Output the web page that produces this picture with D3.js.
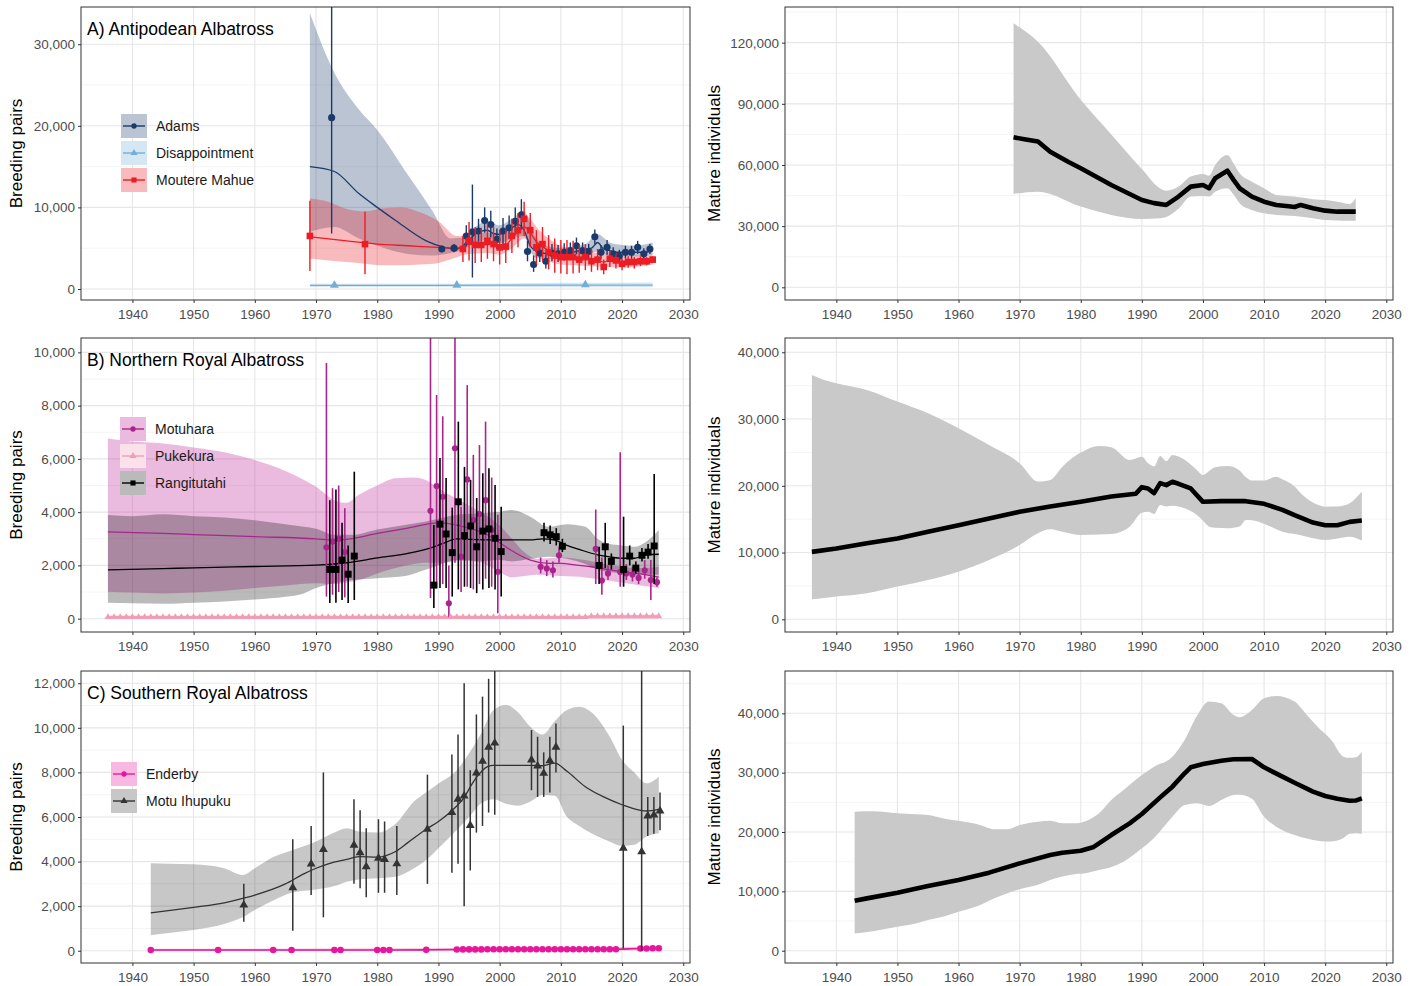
<!DOCTYPE html>
<html>
<head>
<meta charset="utf-8">
<script src="https://cdn.jsdelivr.net/npm/d3@7"></script>
<style>
  body { margin: 0; background: #fff; }
  text { font-family: "Liberation Sans", Arial, sans-serif; }
</style>
</head>
<body>
<div id="chart"></div>
<script>
// ---------- data: x axis ----------
const yearTicks = [1940, 1950, 1960, 1970, 1980, 1990, 2000, 2010, 2020, 2030];

// ---------- A) Antipodean Albatross, breeding pairs ----------
// bands are [year, lower, upper]; trends are [year, value]; points are [year, value, lower, upper]
const adamsBand = [[1969,7000,33800],[1973,7600,26500],[1977,6200,22000],[1980,5300,19500],[1985,4300,14000],[1989,4100,9600],[1992,4400,6200],[1994,4800,6300],[1996,5600,7600],[1998,6000,8300],[2000,5600,7800],[2002,6200,8600],[2004,6500,9600],[2005,4600,8000],[2006,3800,6200],[2008,3700,5200],[2010,3700,5000],[2012,3800,5200],[2014,4100,5500],[2016,4600,6700],[2018,4100,5700],[2020,4000,5400],[2022,4000,5300],[2025,4200,5700]];
const adamsTrend = [[1969,15000],[1973,14400],[1977,11700],[1980,10000],[1983,8400],[1988,5900],[1991,5100],[1993,4900],[1994,5300],[1995,6000],[1996,6700],[1997,7100],[1998,7200],[1999,6800],[2000,6700],[2001,7100],[2002,7500],[2003,7900],[2004,7200],[2005,5300],[2006,4600],[2007,4400],[2008,4300],[2009,4300],[2010,4300],[2011,4400],[2012,4500],[2013,4700],[2014,4900],[2015,5000],[2016,5700],[2017,4900],[2018,4700],[2019,4500],[2020,4500],[2021,4400],[2022,4500],[2023,4500],[2024,4500],[2025,4900]];
const adamsPoints = [[1973,21000,6800,36000],[1991,4900,4500,5300],[1993,5000,4500,5500],[1995,6500,5200,7800],[1996,7000,1400,12800],[1997,7100,5800,8600],[1998,8400,6900,10000],[1999,7900,6300,9600],[2000,6100,4900,7400],[2001,7100,5500,8700],[2002,7500,6200,9000],[2003,8300,6900,10000],[2004,9100,7300,11000],[2005,4600,3400,5900],[2006,3000,2100,4100],[2007,4400,3300,5500],[2008,3400,2500,4500],[2009,4400,3400,5500],[2010,4300,3300,5400],[2011,4500,3500,5600],[2012,4700,3700,5700],[2013,5300,4300,6300],[2014,4700,3700,5700],[2015,4600,3700,5500],[2016,6400,5500,7300],[2017,4500,3600,5400],[2018,5100,4200,6000],[2019,4300,3500,5100],[2020,4000,3200,4800],[2021,4500,3700,5300],[2022,4500,3700,5300],[2023,5100,4300,5900],[2024,4300,3600,5000],[2025,4900,4300,5500]];

const disappointmentBand = [[1969,250,650],[1995,250,650],[2010,200,750],[2025,200,800]];
const disappointmentTrend = [[1969,450],[1990,450],[2010,480],[2025,480]];
const disappointmentPoints = [[1973,450],[1993,470],[2014,520]];

const moutereBand = [[1969,3700,11100],[1972,3500,10700],[1975,3300,9800],[1978,3100,9500],[1981,2900,9900],[1984,2900,10000],[1987,3000,9400],[1990,3200,8300],[1993,3900,6500],[1995,4300,6600],[1998,4400,6900],[2000,4200,6700],[2002,5000,7900],[2004,6200,9000],[2005,5500,8600],[2006,4500,7600],[2008,3400,6200],[2010,3000,5300],[2012,2900,4900],[2015,2800,4500],[2018,2700,4300],[2020,2600,4100],[2022,2700,4100],[2025,3000,4200]];
const moutereTrend = [[1969,6400],[1975,5900],[1980,5500],[1985,5300],[1990,5100],[1993,5000],[1994,5200],[1995,5500],[1997,5400],[1999,5500],[2000,5300],[2001,5400],[2002,6200],[2003,7000],[2004,7600],[2005,6900],[2006,5800],[2007,5200],[2008,4700],[2009,4300],[2010,4100],[2012,3900],[2014,3800],[2016,3600],[2017,3300],[2018,3500],[2020,3200],[2022,3300],[2025,3500]];
const moutereP = [[1969,6500,2200,10800],[1978,5500,1800,9500],[1994,4900,3300,6500],[1995,5900,3500,8200],[1996,5400,3200,7600],[1997,5400,3300,7500],[1998,5900,3700,8100],[1999,5500,3400,7600],[2000,5100,3000,7200],[2001,5200,3200,7300],[2002,6500,4400,8600],[2003,7200,5100,9300],[2004,8600,6500,10700],[2005,7200,5100,9300],[2006,5100,3000,7200],[2007,5500,3400,7600],[2008,4500,2400,6600],[2009,4100,2000,6200],[2010,3900,1900,6000],[2011,3900,1800,6000],[2012,3900,1900,5900],[2013,3600,2000,5400],[2014,3900,2300,5500],[2015,3400,2100,4900],[2016,3600,2300,4900],[2017,2700,1800,3600],[2018,3700,2700,4700],[2019,3500,2500,4300],[2020,3100,2300,3700],[2021,3300,2600,4000],[2022,3300,2500,3900],[2023,3400,2800,4000],[2024,3400,2900,3900],[2025,3600,3200,4000]];

// ---------- B) Northern Royal Albatross, breeding pairs ----------
const motuharaBand = [[1936,1010,6770],[1940,980,6650],[1945,950,6580],[1950,980,6430],[1955,1050,6250],[1960,1150,5960],[1965,1250,5550],[1970,1330,4950],[1973,1300,4450],[1975,1350,4350],[1977,1450,4650],[1980,1700,5000],[1983,1900,5270],[1986,2050,5300],[1988,2100,5200],[1990,2100,4900],[1993,2150,4500],[1995,2200,4250],[1998,2000,3850],[2000,1750,3500],[2002,1550,3000],[2004,1600,2500],[2006,1650,2250],[2010,1600,2300],[2014,1550,2200],[2017,1450,2050],[2020,1350,1950],[2023,1250,1900],[2026,1150,1950]];
const motuharaTrend = [[1936,3260],[1945,3200],[1950,3160],[1960,3080],[1970,3000],[1973,2950],[1975,2980],[1980,3200],[1985,3400],[1990,3600],[1992,3560],[1995,3400],[1998,3150],[2000,2850],[2002,2550],[2005,2200],[2008,2080],[2010,2080],[2013,2000],[2015,1950],[2018,1830],[2020,1770],[2023,1680],[2026,1560]];
const motuharaPoints = [[1972,2680,830,9600],[1973,2900,900,4900],[1974,3000,1000,5000],[1975,2500,800,4150],[1989,4050,780,11000],[1990,4980,1150,8400],[1991,4580,1300,7600],[1992,580,0,2000],[1993,6400,2100,11000],[1994,2330,1000,4200],[1995,5230,1200,8770],[1996,3700,1100,6150],[1997,3930,1300,6520],[1998,4450,1500,7400],[1999,3330,1200,5300],[2000,1760,200,3900],[2007,1950,1700,2300],[2008,1880,1600,2200],[2009,1820,1550,2150],[2010,2380,2100,2700],[2016,2620,1300,4100],[2017,1430,900,2300],[2018,1700,1450,2000],[2020,1750,1200,6250],[2021,1700,1450,2050],[2022,1660,1400,1950],[2023,1530,1300,1800],[2024,1820,1500,2200],[2025,1450,700,2200],[2026,1370,1200,1550]];

const pukekuraYears = [1936,1937,1938,1939,1940,1941,1942,1943,1944,1945,1946,1947,1948,1949,1950,1951,1952,1953,1954,1955,1956,1957,1958,1959,1960,1961,1962,1963,1964,1965,1966,1967,1968,1969,1970,1971,1972,1973,1974,1975,1976,1977,1978,1979,1980,1981,1982,1983,1984,1985,1986,1987,1988,1989,1990,1991,1992,1993,1994,1995,1996,1997,1998,1999,2000,2001,2002,2003,2004,2005,2006,2007,2008,2009,2010,2011,2012,2013,2014,2015,2016,2017,2018,2019,2020,2021,2022,2023,2024,2025,2026];
const pukekuraPairs = [60,60,60,60,60,60,60,60,60,60,60,60,60,60,60,60,60,60,60,60,60,60,60,60,60,60,60,60,60,60,60,60,60,60,60,60,60,60,60,60,60,60,60,60,60,60,60,60,60,60,60,60,60,60,60,60,60,60,60,60,60,60,60,60,60,60,60,60,60,60,60,60,60,60,60,60,60,60,60,90,90,90,90,90,90,90,90,90,90,90,90];
const pukekuraBand = [[1936,0,130],[2014,0,130],[2026,0,170]];

const rangitutahiBand = [[1936,600,3890],[1940,580,3850],[1945,560,3920],[1950,600,3850],[1955,650,3800],[1960,720,3700],[1965,820,3550],[1968,950,3450],[1970,1150,3380],[1973,1330,3150],[1976,1450,3150],[1980,1520,3350],[1984,1580,3500],[1988,1850,3650],[1990,2000,3750],[1993,2200,3900],[1996,2150,3950],[2000,2200,4020],[2002,2150,4080],[2005,2250,3830],[2008,2330,3450],[2011,2250,3550],[2014,2050,3450],[2016,1850,3000],[2018,1750,2800],[2020,1700,2750],[2022,1650,2700],[2024,1650,2900],[2026,1650,3330]];
const rangitutahiTrend = [[1936,1830],[1945,1880],[1950,1910],[1960,1960],[1970,2010],[1975,2100],[1980,2280],[1985,2450],[1989,2680],[1991,2850],[1993,3000],[1995,2980],[2000,2960],[2005,2960],[2007,3000],[2009,2950],[2011,2750],[2013,2600],[2016,2400],[2018,2320],[2020,2270],[2022,2270],[2024,2400],[2026,2420]];
const rangitutahiPoints = [[1972,1850,590,4450],[1973,1850,600,4850],[1974,2200,700,3600],[1975,1670,590,2750],[1976,2350,700,5520],[1989,1260,400,3520],[1990,3550,1150,6030],[1991,3180,1150,5280],[1992,2480,830,4170],[1993,4390,1100,7400],[1994,3120,1200,5700],[1995,3480,1150,5210],[1996,2700,960,4530],[1997,3290,1100,5460],[1998,3370,1150,5650],[1999,3020,1100,5020],[2000,2520,830,4200],[2007,3230,2900,3600],[2008,3150,2800,3500],[2009,3080,2750,3400],[2010,2720,2500,3000],[2016,2000,1300,2700],[2017,2700,1900,3600],[2018,2150,1850,2450],[2020,1850,1200,3830],[2021,2350,2000,2750],[2022,1900,1700,2150],[2023,2380,2150,2650],[2024,2500,2250,2800],[2025,2730,1300,5430]];

// ---------- C) Southern Royal Albatross, breeding pairs ----------
const enderbyYears = [1943,1954,1963,1966,1973,1974,1980,1981,1982,1988,1993,1994,1995,1996,1997,1998,1999,2000,2001,2002,2003,2004,2005,2006,2007,2008,2009,2010,2011,2012,2013,2014,2015,2016,2017,2018,2019,2023,2024,2025,2026];
const enderbyPairs = [30,30,30,30,30,30,30,30,30,40,55,60,60,60,60,65,65,70,70,70,70,70,70,70,70,70,70,70,70,70,70,70,70,70,70,70,70,100,100,110,110];
const enderbyBand = [[1943,0,90],[1990,0,110],[2026,20,180]];

const motuBand = [[1943,700,3920],[1946,800,3900],[1950,930,3880],[1955,1200,3700],[1958,1500,3400],[1960,1830,3700],[1963,2250,4200],[1966,2600,4500],[1970,2750,4900],[1973,2900,5300],[1975,3100,5490],[1977,3200,5350],[1980,3250,5300],[1983,3320,5700],[1986,3700,6700],[1988,4070,7100],[1990,4600,7500],[1993,5420,8100],[1995,6000,8860],[1997,6620,9760],[1999,6800,10800],[2001,6600,11030],[2003,6510,10700],[2005,6700,10050],[2007,6990,9700],[2009,6950,10300],[2011,6010,10800],[2013,5600,10950],[2015,5270,10700],[2018,4890,9600],[2020,4700,8560],[2022,4750,8000],[2024,5120,7510],[2026,5270,7810]];
const motuTrend = [[1943,1700],[1950,1950],[1955,2150],[1958,2350],[1960,2500],[1965,3000],[1968,3450],[1970,3700],[1972,3900],[1975,4100],[1977,4220],[1980,4200],[1983,4450],[1985,4850],[1988,5450],[1990,5800],[1992,6240],[1994,6800],[1996,7700],[1998,8260],[1999,8320],[2002,8320],[2005,8320],[2007,8300],[2009,8420],[2011,8050],[2014,7360],[2017,6900],[2020,6550],[2023,6300],[2024,6270],[2026,6340]];
const motuPoints = [[1958,2050,1300,3000],[1966,2830,900,5000],[1969,3890,2500,5600],[1971,4550,1500,8000],[1976,4740,3000,6800],[1977,4400,2800,6300],[1978,3770,2400,5500],[1980,4150,2600,5900],[1981,4100,2600,5800],[1983,3900,2500,5600],[1988,5450,3000,7900],[1992,6200,3500,8800],[1993,6800,3900,9700],[1994,6950,2000,12000],[1995,5620,3600,8100],[1996,7980,5300,10600],[1997,8500,5600,11400],[1998,9130,6200,12200],[1999,9320,6100,12700],[2005,8560,7200,9900],[2006,8290,6900,9600],[2007,7960,6900,8900],[2008,8530,7100,9600],[2009,9130,8000,10200],[2020,4600,100,10100],[2023,4440,0,13000],[2024,6050,5150,6900],[2025,6090,5250,6900],[2026,6270,5400,7100]];

// ---------- right column: mature individuals ----------
const antipodeanTotal = [[1969,73600],[1971,72500],[1973,71500],[1975,66500],[1978,61500],[1980,58400],[1985,50200],[1990,42800],[1992,41300],[1994,40400],[1996,44500],[1998,49400],[2000,50200],[2001,48600],[2002,53500],[2004,57200],[2005,52700],[2006,48600],[2008,44500],[2010,42000],[2012,40400],[2014,39800],[2015,39400],[2016,40400],[2018,38800],[2020,37600],[2022,37100],[2025,37100]];
const antipodeanTotalBand = [[1969,45800,129500],[1973,46900,120500],[1980,39600,92000],[1985,35500,75000],[1990,33500,58000],[1993,33900,48500],[1994,34500,47400],[1996,38500,49400],[1998,44500,54300],[2000,44800,55600],[2001,44500,54800],[2002,46900,60000],[2004,48600,64900],[2005,45500,60800],[2006,41200,55900],[2008,37900,51800],[2010,36300,48600],[2012,35500,45300],[2015,35000,44500],[2018,33900,43200],[2020,33000,42800],[2022,32800,42000],[2024,32600,40900],[2025,32600,43700]];

const northernTotal = [[1936,10100],[1940,10600],[1945,11400],[1950,12100],[1955,13100],[1960,14100],[1965,15100],[1970,16100],[1975,16900],[1980,17600],[1985,18400],[1989,18800],[1990,19800],[1991,19600],[1992,18900],[1993,20400],[1994,20100],[1995,20600],[1996,20300],[1998,19600],[2000,17600],[2003,17700],[2007,17700],[2010,17300],[2013,16400],[2015,15600],[2018,14500],[2020,14100],[2022,14100],[2024,14600],[2026,14800]];
const northernTotalBand = [[1936,3000,36600],[1938,3200,35860],[1940,3400,35360],[1945,3900,34360],[1950,4900,32610],[1955,5890,30860],[1960,7140,28620],[1965,8890,26120],[1970,11140,23370],[1973,12880,20630],[1975,13480,20880],[1977,13130,22870],[1980,12630,24970],[1983,12700,25970],[1985,12780,25770],[1988,13880,23870],[1990,15980,24370],[1991,16100,23400],[1992,15780,22900],[1993,17130,24470],[1994,16900,23700],[1995,17000,24620],[1997,16630,23900],[1999,15630,22370],[2000,14800,21620],[2001,13880,22200],[2002,13700,22770],[2004,13630,22970],[2006,13900,22300],[2007,14880,21300],[2008,14850,20780],[2010,14300,20800],[2012,13500,21370],[2013,13130,21000],[2015,12780,19900],[2016,12600,18880],[2018,12140,17480],[2020,11890,16880],[2022,12100,16900],[2024,12380,17380],[2026,11790,19130]];

const southernTotal = [[1943,8430],[1945,8820],[1950,9780],[1955,10900],[1960,11910],[1965,13150],[1970,14720],[1975,16120],[1977,16520],[1980,16850],[1982,17420],[1985,19490],[1988,21460],[1990,23030],[1993,25840],[1995,27640],[1997,29890],[1998,30900],[2000,31460],[2003,32020],[2005,32250],[2008,32300],[2010,30900],[2013,29330],[2015,28310],[2018,26800],[2020,26070],[2022,25620],[2024,25280],[2025,25300],[2026,25670]];
const southernTotalBand = [[1943,2920,23430],[1946,3300,23480],[1950,4040,23150],[1953,4600,23000],[1955,5170,22870],[1958,5900,22200],[1960,6570,21910],[1963,7500,21350],[1966,8900,20450],[1968,9700,20450],[1970,10340,21180],[1973,11100,21740],[1975,11910,21900],[1977,12500,21460],[1979,12900,21460],[1981,13100,21910],[1983,13600,23150],[1985,14100,25390],[1987,15000,27080],[1990,17250,29610],[1992,19000,31010],[1995,22580,32700],[1997,24550,35510],[1999,24830,39550],[2001,24380,41970],[2003,25390,41690],[2005,26240,39720],[2006,26300,39330],[2008,25600,40560],[2010,22580,42530],[2012,20900,42920],[2015,19490,41970],[2017,18900,39720],[2019,18500,37470],[2021,18400,35510],[2023,19000,32700],[2024,19700,32500],[2025,19800,32600],[2026,19700,33540]];

// ---------- layout ----------
const svg = d3.select("#chart").append("svg")
    .attr("width", 1413)
    .attr("height", 986)
    .style("background", "#fff");

const xDomain = [1931.6, 2031.1];
const cols = [{left: 81, right: 690, titleX: 22}, {left: 785, right: 1393, titleX: 720}];
const rows = [{top: 7, bottom: 300}, {top: 338, bottom: 632}, {top: 671, bottom: 963}];
const symbols = {circle: d3.symbolCircle, square: d3.symbolSquare, triangle: d3.symbolTriangle};

function makePanel(id, col, row, yDomain, yTicks, yMinor) {
    const c = cols[col], r = rows[row];
    const x = d3.scaleLinear().domain(xDomain).range([c.left, c.right]);
    const y = d3.scaleLinear().domain(yDomain).range([r.bottom, r.top]);
    const g = svg.append("g").attr("class", "panel-" + id);

    svg.append("clipPath").attr("id", "clip-" + id)
        .append("rect")
            .attr("x", c.left).attr("y", r.top)
            .attr("width", c.right - c.left).attr("height", r.bottom - r.top);

    // grid
    g.selectAll(null).data(yMinor).join("line")
        .attr("x1", c.left).attr("x2", c.right)
        .attr("y1", d => y(d)).attr("y2", d => y(d))
        .attr("stroke", "#f2f2f2").attr("stroke-width", 0.8);
    g.selectAll(null).data(yTicks).join("line")
        .attr("x1", c.left).attr("x2", c.right)
        .attr("y1", d => y(d)).attr("y2", d => y(d))
        .attr("stroke", "#e6e6e6").attr("stroke-width", 1.1);
    g.selectAll(null).data(yearTicks).join("line")
        .attr("x1", d => x(d)).attr("x2", d => x(d))
        .attr("y1", r.top).attr("y2", r.bottom)
        .attr("stroke", "#e6e6e6").attr("stroke-width", 1.1);

    const plot = g.append("g").attr("clip-path", `url(#clip-${id})`);
    return {id, c, r, x, y, g, plot, yTicks};
}

function finishPanel(p, yTitle, title) {
    p.g.append("rect")
        .attr("x", p.c.left).attr("y", p.r.top)
        .attr("width", p.c.right - p.c.left).attr("height", p.r.bottom - p.r.top)
        .attr("fill", "none").attr("stroke", "#333").attr("stroke-width", 1);

    const xa = p.g.append("g")
        .attr("transform", `translate(0,${p.r.bottom})`)
        .call(d3.axisBottom(p.x).tickValues(yearTicks).tickFormat(d3.format("d")).tickSize(3).tickPadding(6));
    const ya = p.g.append("g")
        .attr("transform", `translate(${p.c.left},0)`)
        .call(d3.axisLeft(p.y).tickValues(p.yTicks).tickFormat(d3.format(",")).tickSize(3).tickPadding(3));
    [xa, ya].forEach(a => {
        a.select(".domain").remove();
        a.selectAll(".tick line").attr("stroke", "#333");
        a.selectAll("text").attr("fill", "#4d4d4d").style("font-size", "13.5px")
            .style("font-family", '"Liberation Sans", Arial, sans-serif');
    });

    p.g.append("text")
        .attr("transform", `translate(${p.c.titleX},${(p.r.top + p.r.bottom) / 2}) rotate(-90)`)
        .attr("text-anchor", "middle")
        .style("font-size", "17px")
        .attr("fill", "#000")
        .text(yTitle);

    if (title) {
        p.g.append("text")
            .attr("x", p.c.left + 6).attr("y", p.r.top + 28)
            .style("font-size", "17.5px")
            .attr("fill", "#000")
            .text(title);
    }
}

// ---------- drawing helpers ----------
function drawBand(p, band, fill, alpha) {
    const area = d3.area()
        .x(d => p.x(d[0]))
        .y0(d => p.y(d[1]))
        .y1(d => p.y(d[2]))
        .curve(d3.curveMonotoneX);
    p.plot.append("path").datum(band)
        .attr("d", area)
        .attr("fill", fill).attr("fill-opacity", alpha);
}

function drawTrend(p, trend, color, width, curve) {
    const line = d3.line()
        .x(d => p.x(d[0]))
        .y(d => p.y(d[1]))
        .curve(curve || d3.curveMonotoneX);
    p.plot.append("path").datum(trend)
        .attr("d", line)
        .attr("fill", "none")
        .attr("stroke", color).attr("stroke-width", width)
        .attr("stroke-linejoin", "round");
}

function drawPoints(p, pts, s) {
    const withBars = pts.filter(d => d.length > 2);
    p.plot.append("g").selectAll("line").data(withBars).join("line")
        .attr("x1", d => p.x(d[0] + s.dodge)).attr("x2", d => p.x(d[0] + s.dodge))
        .attr("y1", d => p.y(d[2])).attr("y2", d => p.y(d[3]))
        .attr("stroke", s.color).attr("stroke-width", s.barWidth);
    p.plot.append("g").selectAll("path").data(pts).join("path")
        .attr("transform", d => `translate(${p.x(d[0] + s.dodge)},${p.y(d[1])})`)
        .attr("d", d3.symbol(symbols[s.shape], s.size))
        .attr("fill", s.color);
}

function drawLegend(p, items, lx, ly) {
    const key = p.g.append("g").selectAll("g").data(items).join("g")
        .attr("transform", (d, i) => `translate(${lx},${ly + i * 27})`);
    key.append("rect")
        .attr("width", 26).attr("height", 24)
        .attr("fill", "#fff");
    key.append("rect")
        .attr("width", 26).attr("height", 24)
        .attr("fill", d => d.bandFill).attr("fill-opacity", d => d.bandAlpha);
    key.append("line")
        .attr("x1", 2).attr("x2", 24).attr("y1", 12).attr("y2", 12)
        .attr("stroke", d => d.color).attr("stroke-width", 1.4);
    key.append("path")
        .attr("transform", "translate(13,12)")
        .attr("d", d => d3.symbol(symbols[d.shape], d.shape === "square" ? 26 : 22)())
        .attr("fill", d => d.color);
    key.append("text")
        .attr("x", 35).attr("y", 12).attr("dy", "0.35em")
        .style("font-size", "14px")
        .attr("fill", "#1a1a1a")
        .text(d => d.label);
}

function drawSeriesGroup(p, list) {
    list.forEach(s => drawBand(p, s.band, s.bandFill, s.bandAlpha));
    list.forEach(s => drawTrend(p, s.trend, s.color, s.lineWidth));
    list.forEach(s => drawPoints(p, s.points, s));
}

// ---------- panel A ----------
const adams = {label: "Adams", color: "#1b3a6b", bandFill: "#1b3a6b", bandAlpha: 0.3, band: adamsBand, trend: adamsTrend, points: adamsPoints, shape: "circle", size: 40, dodge: -0.45, barWidth: 1.4, lineWidth: 1.3};
const disappointment = {label: "Disappointment", color: "#74aed8", bandFill: "#74aed8", bandAlpha: 0.3, band: disappointmentBand, trend: disappointmentTrend, points: disappointmentPoints, shape: "triangle", size: 34, dodge: 0, barWidth: 1.4, lineWidth: 1.3};
const moutere = {label: "Moutere Mahue", color: "#ec1c24", bandFill: "#ec1c24", bandAlpha: 0.3, band: moutereBand, trend: moutereTrend, points: moutereP, shape: "square", size: 44, dodge: 0, barWidth: 1.4, lineWidth: 1.3};

const pA = makePanel("a", 0, 0, [-1350, 34560], [0, 10000, 20000, 30000], [5000, 15000, 25000]);
drawSeriesGroup(pA, [adams, disappointment, moutere]);
finishPanel(pA, "Breeding pairs", "A) Antipodean Albatross");
drawLegend(pA, [adams, disappointment, moutere], 121, 114);

// ---------- panel B ----------
const motuhara = {label: "Motuhara", color: "#a8268c", bandFill: "#c2389e", bandAlpha: 0.34, band: motuharaBand, trend: motuharaTrend, points: motuharaPoints, shape: "circle", size: 30, dodge: -0.3, barWidth: 1.6, lineWidth: 1.3};
const pukekura = {label: "Pukekura", color: "#f39cb6", bandFill: "#f39cb6", bandAlpha: 0.3, band: pukekuraBand, trend: pukekuraYears.map((yr, i) => [yr, pukekuraPairs[i]]), points: pukekuraYears.map((yr, i) => [yr, pukekuraPairs[i]]), shape: "triangle", size: 20, dodge: 0, barWidth: 1.4, lineWidth: 2};
const rangitutahi = {label: "Rangitutahi", color: "#000", bandFill: "#000", bandAlpha: 0.27, band: rangitutahiBand, trend: rangitutahiTrend, points: rangitutahiPoints, shape: "square", size: 48, dodge: 0.25, barWidth: 1.6, lineWidth: 1.3};

const pB = makePanel("b", 0, 1, [-500, 10540], [0, 2000, 4000, 6000, 8000, 10000], [1000, 3000, 5000, 7000, 9000]);
drawSeriesGroup(pB, [motuhara, pukekura, rangitutahi]);
finishPanel(pB, "Breeding pairs", "B) Northern Royal Albatross");
drawLegend(pB, [motuhara, pukekura, rangitutahi], 120, 417);

// ---------- panel C ----------
const enderby = {label: "Enderby", color: "#e6179b", bandFill: "#e6179b", bandAlpha: 0.3, band: enderbyBand, trend: enderbyYears.map((yr, i) => [yr, enderbyPairs[i]]), points: enderbyYears.map((yr, i) => [yr, enderbyPairs[i]]), shape: "circle", size: 34, dodge: 0, barWidth: 1.4, lineWidth: 1.6};
const motu = {label: "Motu Ihupuku", color: "#333", bandFill: "#000", bandAlpha: 0.22, band: motuBand, trend: motuTrend, points: motuPoints, shape: "triangle", size: 34, dodge: 0.2, barWidth: 1.5, lineWidth: 1.3};

const pC = makePanel("c", 0, 2, [-550, 12550], [0, 2000, 4000, 6000, 8000, 10000, 12000], [1000, 3000, 5000, 7000, 9000, 11000]);
drawSeriesGroup(pC, [enderby, motu]);
finishPanel(pC, "Breeding pairs", "C) Southern Royal Albatross");
drawLegend(pC, [enderby, motu], 111, 762);

// ---------- right column ----------
function drawTotal(id, row, yDomain, yTicks, yMinor, band, total) {
    const p = makePanel(id, 1, row, yDomain, yTicks, yMinor);
    drawBand(p, band, "#c9c9c9", 1);
    drawTrend(p, total, "#000", 4.6, d3.curveLinear);
    finishPanel(p, "Mature individuals", null);
}

drawTotal("ra", 0, [-6230, 137500], [0, 30000, 60000, 90000, 120000], [15000, 45000, 75000, 105000, 135000], antipodeanTotalBand, antipodeanTotal);
drawTotal("rb", 1, [-1900, 42140], [0, 10000, 20000, 30000, 40000], [5000, 15000, 25000, 35000], northernTotalBand, northernTotal);
drawTotal("rc", 2, [-2070, 47130], [0, 10000, 20000, 30000, 40000], [5000, 15000, 25000, 35000, 45000], southernTotalBand, southernTotal);
</script>
</body>
</html>
